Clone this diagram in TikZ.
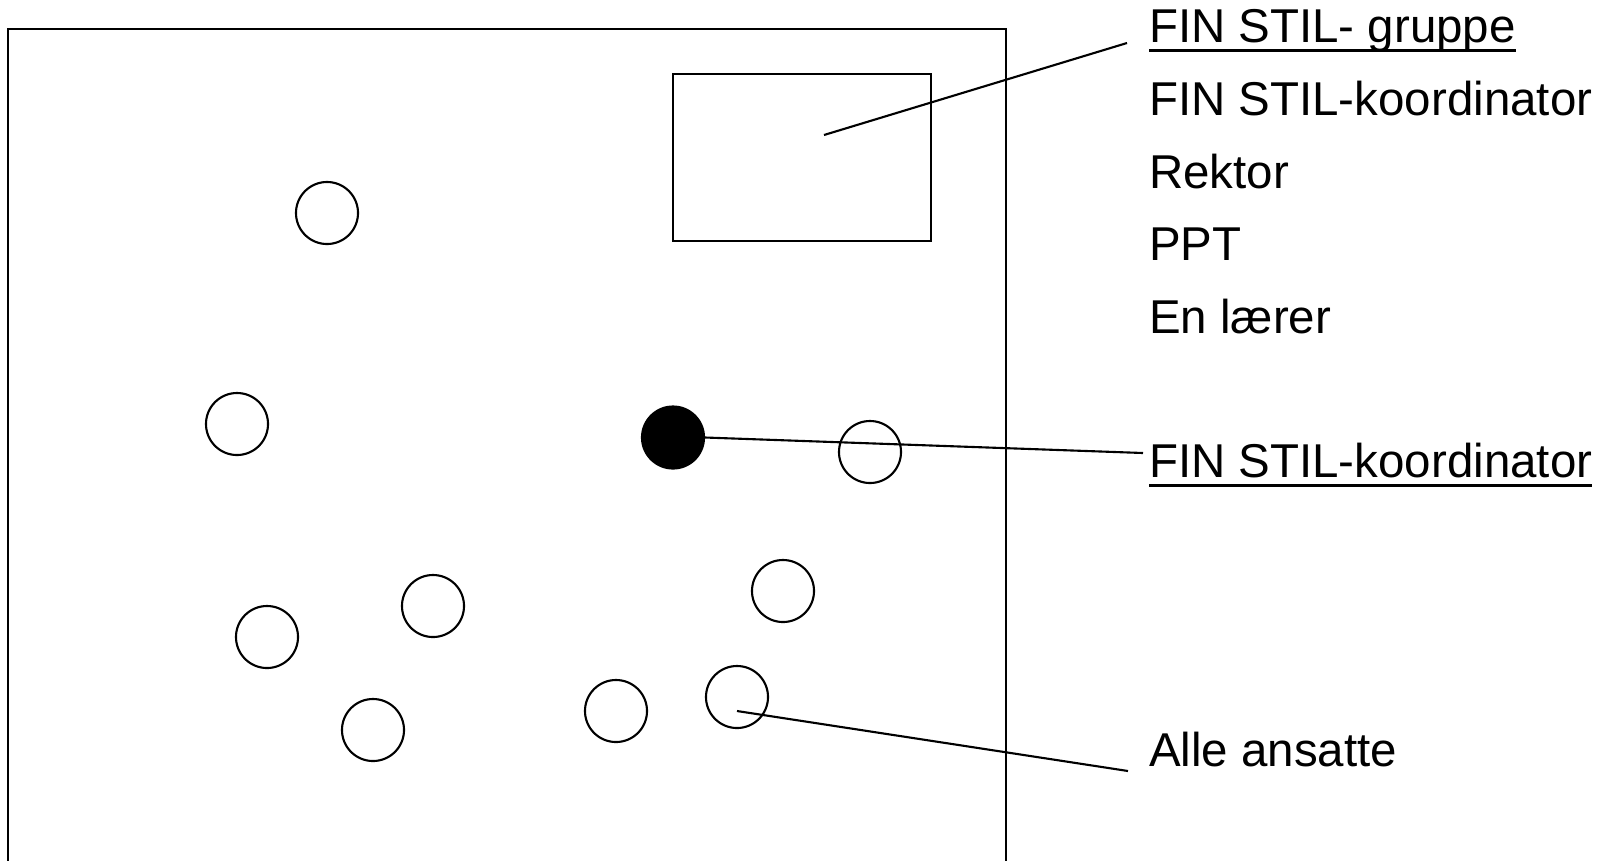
\documentclass[tikz,border=0pt]{standalone}
\usepackage{fontspec}
\setmainfont{Liberation Sans}
\usetikzlibrary{positioning}

\newcommand{\lblline}[1]{\setbox0\hbox{#1}\rlap{\rule[-2.8pt]{\wd0}{0.85pt}}\box0}

\begin{document}
\begin{tikzpicture}[
					x=0.01cm, y=-0.01cm,
					line width=0.6pt,
					person/.style={circle, draw, inner sep=0pt, minimum size=0.62cm},
					lbl/.style={anchor=base west, inner sep=0pt, font=\fontsize{13.5}{16}\selectfont}
				]
					\useasboundingbox (0,0) rectangle (1615,860);
					% room
					\draw (8,900) -- (8,29) -- (1006,29) -- (1006,900);
					\node[draw, minimum width=2.58cm, minimum height=1.67cm, inner sep=0pt] (group) at (802,157.5) {};
					% people
					\node[person] (p1) at (327,213) {};
					\node[person] (p2) at (237,424) {};
					\node[person, fill=black] (coord) at (673,437.5) {};
					\node[person] (p3) at (870,452) {};
					\node[person] (p4) at (783,591) {};
					\node[person] (p5) at (433,606) {};
					\node[person] (p6) at (267,637) {};
					\node[person] (p7) at (373,730) {};
					\node[person] (p8) at (616,711) {};
					\node[person] (p9) at (737,697) {};
					% labels
					\node[lbl] (grouptitle) at (1148,42) {\lblline{FIN STIL- gruppe}};
					\node[lbl] (m1) at (1148,115) {FIN STIL-koordinator};
					\node[lbl] (m2) at (1148,188) {Rektor};
					\node[lbl] (m3) at (1148,260) {PPT};
					\node[lbl] (m4) at (1148,333) {En lærer};
					\node[lbl] (coordtitle) at (1148,477) {\lblline{FIN STIL-koordinator}};
					\node[lbl] (alle) at (1148,766) {Alle ansatte};
					% connectors
					\coordinate (ingroup) at (824,135);
					\coordinate (grouptip) at (1127,43);
					\coordinate (coordtip) at (1143,453);
					\coordinate (inp9) at (737,711);
					\coordinate (alletip) at (1128,771);
					\draw (ingroup) -- (grouptip);
					\draw (coord.east) -- (coordtip);
					\draw (inp9) -- (alletip);
				\end{tikzpicture}
\end{document}
